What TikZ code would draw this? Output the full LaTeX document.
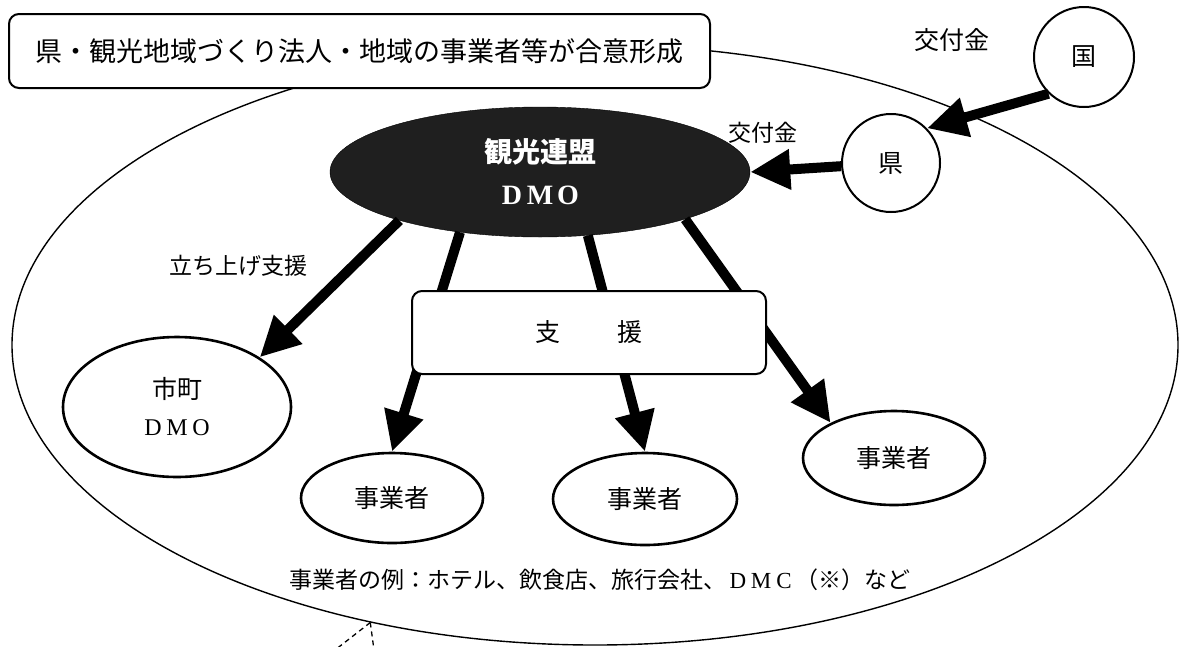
\documentclass[tikz,border=0pt]{standalone}
\usepackage{fontspec}
\setmainfont{Noto Sans CJK JP}
\newfontfamily\serifl{Liberation Serif}
\usetikzlibrary{arrows.meta,shapes.geometric}
\newcommand{\fwl}[1]{\makebox[1em]{\serifl #1}}
\begin{document}
\begin{tikzpicture}[x=1pt,y=-1pt,
  fs/.style={font=\fontsize{#1}{#1}\selectfont},
  lbl/.style={inner sep=0pt},
  circ/.style={circle, draw, line width=2pt, inner sep=0pt, fill=white, fs=25},
  oval/.style={ellipse, draw, line width=2.6pt, inner sep=0pt, fill=white, fs=25},
  arr/.style={line width=10pt, -{Triangle[length=40pt,width=38pt]}},
  rbox/.style={draw, rounded corners=10pt, fill=white, line width=2pt, inner sep=0pt},
  callout/.style={line width=1.3pt, dash pattern=on 5pt off 4pt}
]
\useasboundingbox (0,0) rectangle (1182,646);
% big region
\node[ellipse, draw, line width=1.4pt, minimum width=1166pt, minimum height=600pt, inner sep=0pt] (big) at (595,345) {};
\coordinate (cA) at (335,650);
\coordinate (cB) at (374,650);
\draw[callout] (big.231.2) -- (cA);
\draw[callout] (big.231.2) -- (cB);
% top box
\node[rbox, minimum width=701pt, minimum height=74pt, fs=27] (top) at (359.5,51) {県・観光地域づくり法人・地域の事業者等が合意形成};
% country / prefecture
\node[circ, minimum size=100pt] (kuni) at (1084,57) {国};
\node[circ, minimum size=98pt] (ken) at (891,163) {県};
\node[lbl, fs=25] (kofu1) at (952,40) {交付金};
\node[lbl, fs=23] (kofu2) at (763,133) {交付金};
% DMO
\node[ellipse, fill=black!88, draw=black, minimum width=420pt, minimum height=130pt, inner sep=0pt, text=white, align=center, font=\fontsize{28}{42}\selectfont\bfseries] (dmo) at (540,172) {観光連盟\\{\fwl{D}\fwl{M}\fwl{O}}};
% targets
\node[oval, minimum width=228pt, minimum height=140pt, align=center, font=\fontsize{25}{37}\selectfont] (shi) at (177,407) {市町\\{\fontsize{24}{37}\selectfont\fwl{D}\fwl{M}\fwl{O}}};
\node[oval, minimum width=182pt, minimum height=90pt] (e1) at (392,498) {事業者};
\node[oval, minimum width=184pt, minimum height=92pt] (e2) at (645,499) {事業者};
\node[oval, minimum width=182pt, minimum height=94pt] (e3) at (894,458) {事業者};
% arrows
\draw[arr] (kuni.226) -- (ken.44);
\draw[arr] (ken) -- (dmo.east);
\draw[arr] (dmo.199.6) -- (shi.31.4);
\draw[arr] (dmo.217.6) -- (e1.north);
\draw[arr] (dmo.-53.3) -- (e2.north);
\draw[arr] (dmo.-18.6) -- (e3.151.4);
\node[lbl, fs=23] (tachi) at (238,266) {立ち上げ支援};
% support box
\node[rbox, minimum width=354pt, minimum height=83pt, fs=25] (shien) at (589,332.5) {支\hspace{57pt}援};
% example text
\node[lbl, fs=23] (ex) at (600,580) {事業者の例：ホテル、飲食店、旅行会社、\fwl{D}\fwl{M}\fwl{C}（※）など};
\end{tikzpicture}
\end{document}
